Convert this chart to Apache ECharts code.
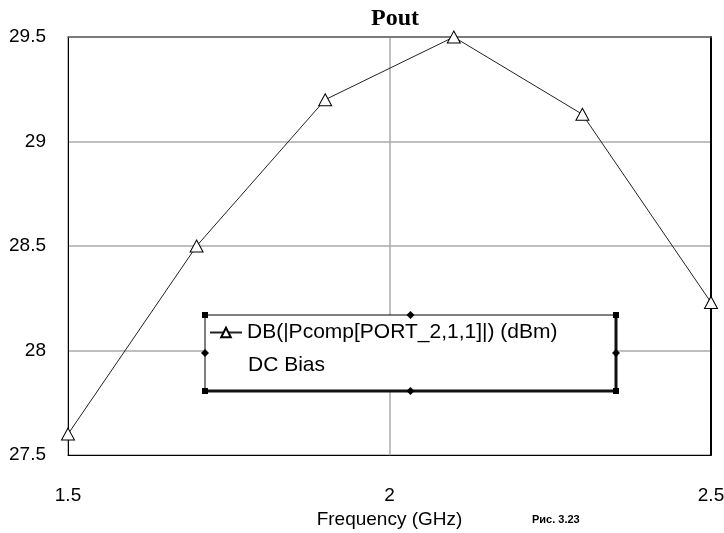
<!DOCTYPE html>
<html>
<head>
<meta charset="utf-8">
<script src="https://cdn.jsdelivr.net/npm/echarts@6/dist/echarts.min.js"></script>
<style>
  html, body { margin: 0; padding: 0; background: #fff; }
  #chart { width: 724px; height: 533px; }
</style>
</head>
<body>
<div id="chart"></div>
<script>
// frequency (GHz) and output power (dBm)
const freq = [1.5, 1.7, 1.9, 2.1, 2.3, 2.5];
const pout = [27.6, 28.5, 29.2, 29.5, 29.13, 28.23];
const xRange = [1.5, 2.5];
const yRange = [27.5, 29.5];
const seriesName = 'DB(|Pcomp[PORT_2,1,1]|) (dBm)';

const labelFont = "'Liberation Sans', Arial, sans-serif";

const myChart = echarts.init(document.getElementById('chart'));

// legend box handles (corners squares, middle diamonds)
const box = { x: 205, y: 315, w: 411, h: 76 };
const handles = [];
[[0, 0], [1, 0], [0, 1], [1, 1]].forEach(([a, b]) => {
  handles.push({
    type: 'rect', z: 31,
    shape: { x: box.x + a * box.w - 3, y: box.y + b * box.h - 3, width: 6, height: 6 },
    style: { fill: '#000' }
  });
});
[[0.5, 0], [0.5, 1], [0, 0.5], [1, 0.5]].forEach(([a, b]) => {
  const cx = box.x + a * box.w, cy = box.y + b * box.h;
  handles.push({
    type: 'polygon', z: 31,
    shape: { points: [[cx, cy - 4], [cx + 4, cy], [cx, cy + 4], [cx - 4, cy]] },
    style: { fill: '#000' }
  });
});

const option = {
  backgroundColor: '#fff',
  animation: false,
  title: {
    text: 'Pout',
    left: 390,
    top: 2,
    textAlign: 'center',
    textStyle: { fontFamily: "'Liberation Serif', 'Times New Roman', serif", fontWeight: 'bold', fontSize: 24, color: '#000' }
  },
  grid: { left: 68, right: 13, top: 37, bottom: 78, show: false, outerBoundsMode: 'none', containLabel: false },
  legend: {
    left: 209,
    top: 322,
    z: 40,
    padding: 0,
    itemWidth: 32,
    itemHeight: 12,
    data: [seriesName],
    textStyle: { fontFamily: labelFont, fontSize: 21, color: '#000' }
  },
  xAxis: [
    {
      type: 'value',
      min: xRange[0], max: xRange[1], interval: 0.5,
      name: 'Frequency (GHz)',
      nameLocation: 'middle',
      nameGap: 52,
      nameTextStyle: { fontFamily: labelFont, fontSize: 19, color: '#000' },
      axisLine: { show: true, lineStyle: { color: '#000', width: 1 } },
      axisTick: { show: false },
      axisLabel: { margin: 31, fontFamily: labelFont, fontSize: 19, color: '#000' },
      splitLine: { show: true, lineStyle: { color: '#aaa', width: 1.5 } }
    },
    {
      type: 'value', position: 'top',
      min: xRange[0], max: xRange[1],
      axisLine: { show: true, lineStyle: { color: '#666', width: 1.5 } },
      axisTick: { show: false }, axisLabel: { show: false }, splitLine: { show: false }
    }
  ],
  yAxis: [
    {
      type: 'value',
      min: yRange[0], max: yRange[1], interval: 0.5,
      axisLine: { show: true, lineStyle: { color: '#000', width: 1 } },
      axisTick: { show: false },
      axisLabel: { margin: 22, fontFamily: labelFont, fontSize: 19, color: '#000' },
      splitLine: { show: true, lineStyle: { color: '#aaa', width: 1.5 } }
    },
    {
      type: 'value', position: 'right',
      min: yRange[0], max: yRange[1],
      axisLine: { show: true, lineStyle: { color: '#000', width: 2 } },
      axisTick: { show: false }, axisLabel: { show: false }, splitLine: { show: false }
    }
  ],
  series: [{
    name: seriesName,
    type: 'line',
    data: freq.map((f, i) => [f, pout[i]]),
    symbol: 'triangle',
    symbolSize: [13, 12],
    lineStyle: { color: '#222', width: 1 },
    itemStyle: { color: '#fff', borderColor: '#000', borderWidth: 1 },
    z: 5
  }],
  graphic: [
    {
      type: 'rect', z: 30,
      shape: { x: box.x, y: box.y, width: box.w, height: box.h },
      style: { fill: '#fff', stroke: '#000', lineWidth: 1 }
    },
    {
      type: 'line', z: 31,
      shape: { x1: box.x, y1: box.y + box.h, x2: box.x + box.w, y2: box.y + box.h },
      style: { stroke: '#111', lineWidth: 3 }
    },
    {
      type: 'line', z: 31,
      shape: { x1: box.x + box.w, y1: box.y, x2: box.x + box.w, y2: box.y + box.h },
      style: { stroke: '#111', lineWidth: 3 }
    },
    ...handles,
    {
      type: 'text', z: 41,
      left: 248, top: 355,
      style: { text: 'DC Bias', font: '21px ' + labelFont, fill: '#000' }
    },
    {
      type: 'text', z: 41,
      left: 532, top: 514,
      style: { text: 'Рис. 3.23', font: 'bold 11px ' + labelFont, fill: '#000' }
    }
  ]
};

myChart.setOption(option);
</script>
</body>
</html>
